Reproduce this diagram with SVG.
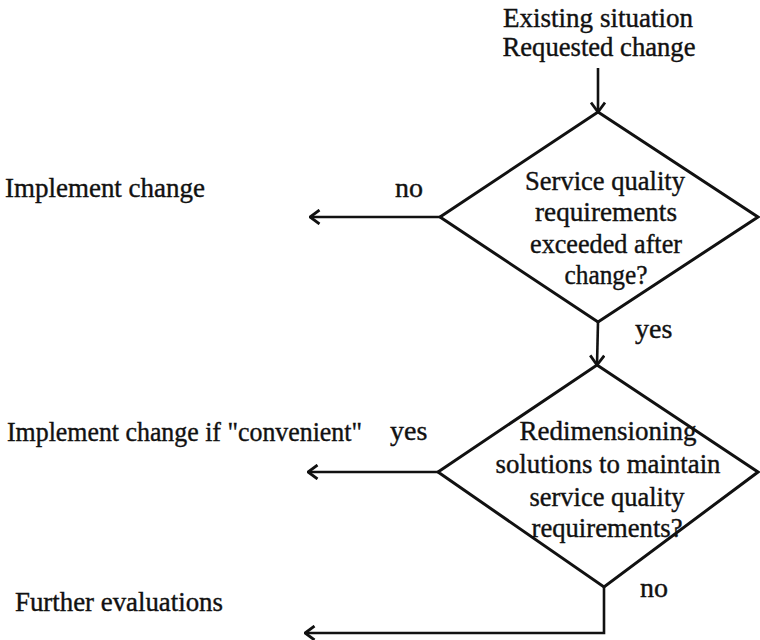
<svg xmlns="http://www.w3.org/2000/svg" width="760" height="640" viewBox="0 0 760 640">
<defs>
<style>
text{font-family:"Liberation Serif","Times New Roman",serif;font-size:28px;fill:#111;stroke:#111;stroke-width:0.4}
.c{text-anchor:middle}
.s{fill:none;stroke:#111;stroke-width:3}
.a{fill:none;stroke:#111;stroke-width:2.6}
</style>
<marker id="ah" viewBox="0 0 12 16" refX="11" refY="8" markerWidth="12" markerHeight="16" markerUnits="userSpaceOnUse" orient="auto">
<path d="M1.5,1 L11,8 L1.5,15" fill="none" stroke="#111" stroke-width="2.8"/>
</marker>
</defs>
<rect width="760" height="640" fill="#fff"/>
<g id="start">
<text class="c" x="598" y="27" textLength="190" lengthAdjust="spacingAndGlyphs">Existing situation</text>
<text class="c" x="599" y="56" textLength="193" lengthAdjust="spacingAndGlyphs">Requested change</text>
</g>
<g id="d1">
<polygon class="s" points="598,112 758,217 598,322 440,217"/>
<text class="c" x="605" y="190" textLength="160" lengthAdjust="spacingAndGlyphs">Service quality</text>
<text class="c" x="606" y="221" textLength="142" lengthAdjust="spacingAndGlyphs">requirements</text>
<text class="c" x="606" y="253" textLength="152" lengthAdjust="spacingAndGlyphs">exceeded after</text>
<text class="c" x="606" y="284" textLength="83" lengthAdjust="spacingAndGlyphs">change?</text>
</g>
<g id="d2">
<polygon class="s" points="597,365 758,472 604,587 438,472"/>
<text class="c" x="608" y="440" textLength="177" lengthAdjust="spacingAndGlyphs">Redimensioning</text>
<text class="c" x="608" y="473" textLength="225" lengthAdjust="spacingAndGlyphs">solutions to maintain</text>
<text class="c" x="607" y="506" textLength="155" lengthAdjust="spacingAndGlyphs">service quality</text>
<text class="c" x="607" y="537" textLength="151" lengthAdjust="spacingAndGlyphs">requirements?</text>
</g>
<g id="out1"><text x="5" y="197" textLength="200" lengthAdjust="spacingAndGlyphs">Implement change</text></g>
<g id="out2"><text x="7" y="441" textLength="355" lengthAdjust="spacingAndGlyphs">Implement change if "convenient"</text></g>
<g id="out3"><text x="15" y="611" textLength="208" lengthAdjust="spacingAndGlyphs">Further evaluations</text></g>
<g id="connectors">
<line class="a" x1="598" y1="68" x2="598" y2="112" marker-end="url(#ah)"/>
<line class="a" x1="598" y1="322" x2="597" y2="365" marker-end="url(#ah)"/>
<line class="a" x1="440" y1="217" x2="310" y2="217" marker-end="url(#ah)"/>
<line class="a" x1="438" y1="472" x2="308" y2="472" marker-end="url(#ah)"/>
<polyline class="a" points="604,587 604,633 305,633" marker-end="url(#ah)"/>
<text x="395" y="197">no</text>
<text x="390" y="440">yes</text>
<text x="635" y="338">yes</text>
<text x="640" y="597">no</text>
</g>
</svg>
